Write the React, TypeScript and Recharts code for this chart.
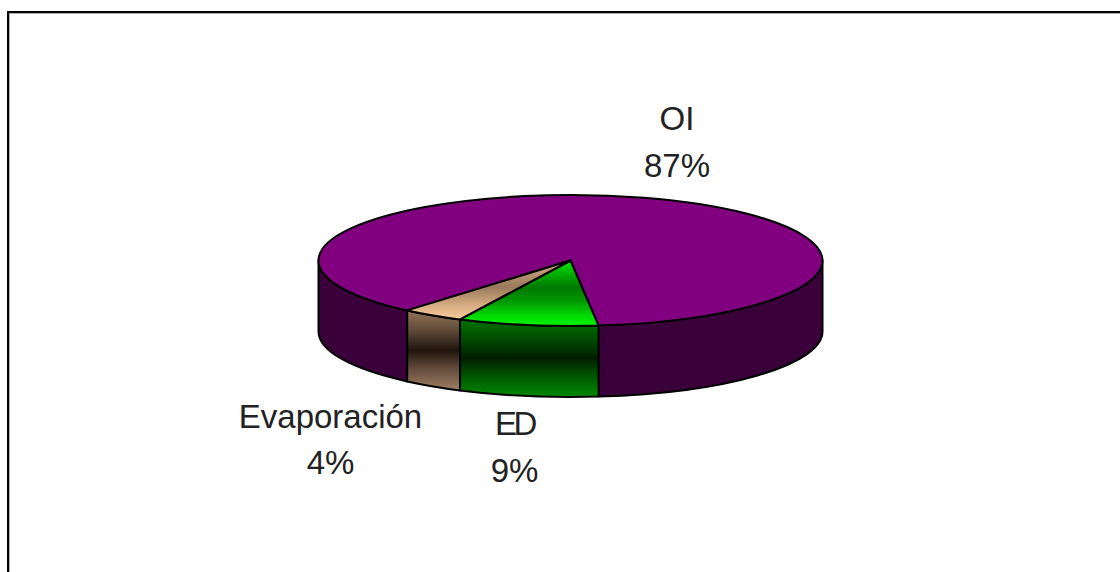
import React from "react";
import { PieChart, Pie } from "recharts";

// Water balance shares, listed clockwise from the back-left of the disc.
const categories = ["OI", "ED", "Evaporación"];
const shares = [87, 9, 4];

const tableRows = categories.map((name, i) => ({ name, value: shares[i] }));

const WIDTH = 1120;
const HEIGHT = 572;
const CENTER_X = 565.5;
const CENTER_Y = 255.5;
const RADIUS_X = 252;
const SQUASH = 0.26;
const DEPTH = 71;
const RAD = Math.PI / 180;

// Fill ids for the top face and the side wall of each slice.
const faceFills: Record<string, { top: string; wall: string }> = {
  OI: { top: "#800080", wall: "#3a003a" },
  ED: { top: "url(#edTop)", wall: "url(#edWall)" },
  "Evaporación": { top: "url(#evapTop)", wall: "url(#evapWall)" },
};

// Label centres and baselines of the two text lines.
const labelSpots: Record<string, { x: number; y1: number; y2: number; spacing: number }> = {
  OI: { x: 677, y1: 130, y2: 177, spacing: 0 },
  ED: { x: 514.5, y1: 435, y2: 482, spacing: -3.5 },
  "Evaporación": { x: 330.5, y1: 428, y2: 474, spacing: 0 },
};

type SliceProps = {
  cx: number;
  cy: number;
  outerRadius: number;
  startAngle: number;
  endAngle: number;
  name?: string;
  payload?: { name: string };
};

// Front-facing parts of a clockwise sweep: angle ranges that fall in the lower half of the ellipse.
function frontRanges(start: number, end: number): [number, number][] {
  const out: [number, number][] = [];
  for (let k = -2; k <= 2; k++) {
    const hi = Math.min(start, 360 * k);
    const lo = Math.max(end, 360 * k - 180);
    if (hi > lo) out.push([hi, lo]);
  }
  return out;
}

// One pie slice drawn as a flattened disc sector with a side wall below it.
function Slice3D(props: SliceProps) {
  const { cx, cy, outerRadius, startAngle, endAngle } = props;
  const label = props.name ?? props.payload?.name ?? "";
  const fills = faceFills[label];
  const rx = outerRadius;
  const ry = outerRadius * SQUASH;
  const pt = (a: number, dy = 0) =>
    `${(cx + rx * Math.cos(a * RAD)).toFixed(2)} ${(cy - ry * Math.sin(a * RAD) + dy).toFixed(2)}`;
  const large = Math.abs(startAngle - endAngle) > 180 ? 1 : 0;
  const top = `M${cx} ${cy}L${pt(startAngle)}A${rx} ${ry} 0 ${large} 1 ${pt(endAngle)}Z`;
  return (
    <g>
      {frontRanges(startAngle, endAngle).map(([a, b]) => (
        <path
          key={a}
          d={`M${pt(a)}A${rx} ${ry} 0 0 1 ${pt(b)}L${pt(b, DEPTH)}A${rx} ${ry} 0 0 0 ${pt(a, DEPTH)}Z`}
          fill={fills.wall}
          stroke="#000"
          strokeWidth={2}
          strokeLinejoin="round"
        />
      ))}
      <path d={top} fill={fills.top} stroke="#000" strokeWidth={2} strokeLinejoin="round" />
    </g>
  );
}

// Two-line label: category name above its percentage.
function SliceLabel(props: { name?: string; value?: number }) {
  const name = props.name ?? "";
  const spot = labelSpots[name];
  const common = {
    x: spot.x,
    textAnchor: "middle" as const,
    fill: "#222",
    fontFamily: "'Liberation Sans', Arial, sans-serif",
    fontSize: 33,
  };
  return (
    <g>
      <text {...common} y={spot.y1} letterSpacing={spot.spacing}>
        {name}
      </text>
      <text {...common} y={spot.y2}>
        {props.value}%
      </text>
    </g>
  );
}

export default function App() {
  return (
    <div style={{ position: "absolute", left: 0, top: 0, width: WIDTH, height: HEIGHT, overflow: "hidden", background: "#fff" }}>
      <div
        style={{
          position: "absolute",
          left: 7,
          top: 11,
          width: WIDTH - 7,
          height: HEIGHT - 11,
          boxSizing: "border-box",
          borderLeft: "2px solid #000",
          borderTop: "2px solid #000",
          boxShadow: "inset 1px 1px 0 #b0b0b0",
        }}
      />
      <PieChart width={WIDTH} height={HEIGHT} style={{ position: "absolute", left: 0, top: 0 }}>
        <defs>
          <linearGradient id="edTop" x1="0" y1="0" x2="0" y2="1">
            <stop offset="0" stopColor="#00e800" />
            <stop offset="0.2" stopColor="#00b000" />
            <stop offset="0.42" stopColor="#007800" />
            <stop offset="0.62" stopColor="#009800" />
            <stop offset="0.85" stopColor="#00dc00" />
            <stop offset="1" stopColor="#00f400" />
          </linearGradient>
          <linearGradient id="edWall" x1="0" y1="0" x2="0" y2="1">
            <stop offset="0" stopColor="#007400" />
            <stop offset="0.25" stopColor="#004c00" />
            <stop offset="0.5" stopColor="#001e00" />
            <stop offset="0.72" stopColor="#005400" />
            <stop offset="1" stopColor="#008a00" />
          </linearGradient>
          <linearGradient id="evapTop" x1="0" y1="0" x2="0" y2="1">
            <stop offset="0" stopColor="#d8b088" />
            <stop offset="0.45" stopColor="#9a7a5c" />
            <stop offset="0.75" stopColor="#d4aa80" />
            <stop offset="1" stopColor="#f8cc9c" />
          </linearGradient>
          <linearGradient id="evapWall" x1="0" y1="0" x2="0" y2="1">
            <stop offset="0" stopColor="#947458" />
            <stop offset="0.25" stopColor="#5e4a38" />
            <stop offset="0.5" stopColor="#20140c" />
            <stop offset="0.72" stopColor="#60493a" />
            <stop offset="1" stopColor="#a08064" />
          </linearGradient>
        </defs>
        <Pie
          data={tableRows}
          dataKey="value"
          nameKey="name"
          cx={CENTER_X}
          cy={CENTER_Y}
          innerRadius={0}
          outerRadius={RADIUS_X}
          startAngle={229.6}
          endAngle={-130.4}
          shape={Slice3D as never}
          label={SliceLabel as never}
          labelLine={false}
          stroke="none"
          isAnimationActive={false}
        />
      </PieChart>
    </div>
  );
}
